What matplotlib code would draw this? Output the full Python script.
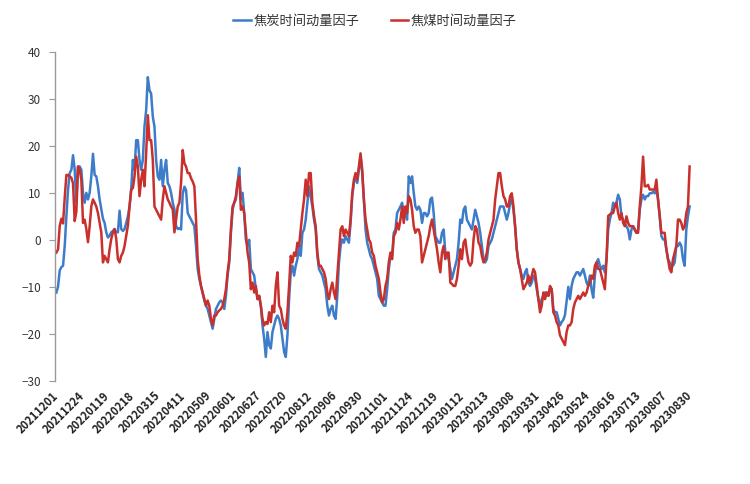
import numpy as np
import matplotlib
matplotlib.use("Agg")
import matplotlib.pyplot as plt
from matplotlib.transforms import ScaledTranslation

plt.rcParams['font.family'] = ['Noto Sans CJK SC', 'DejaVu Sans']

# tick labels on the category axis (every 17 trading days)
date_labels = ['20211201', '20211224', '20220119', '20220218', '20220315', '20220411',
               '20220509', '20220601', '20220627', '20220720', '20220812', '20220906',
               '20220930', '20221101', '20221124', '20221219', '20230112', '20230213',
               '20230308', '20230331', '20230426', '20230524', '20230616', '20230713',
               '20230807', '20230830']

coke = [
    # 2021-12 .. 2022-04
    -11.2, -9.9, -6.5, -5.8, -5.5, -1.3, 5.0, 10.7, 14.2, 14.9, 18.0, 15.0, 8.0, 15.6, 15.6,
    14.9, 10.0, 7.9, 10.0, 8.6, 10.0, 13.5, 18.3, 13.8, 13.5, 11.4, 8.6, 6.5, 4.5, 3.6,
    1.6, 0.5, 0.9, 1.6, 1.9, 2.3, 1.6, 1.6, 6.2, 2.3, 1.9, 2.3, 3.6, 5.0, 7.1,
    10.7, 17.0, 14.9, 21.2, 21.2, 17.0, 14.9, 17.0, 24.1, 27.6, 34.6, 31.8, 31.1, 26.2, 24.1,
    17.0, 13.5, 12.8, 17.0, 11.4, 14.9, 17.0, 12.1, 11.4, 10.0, 7.9, 6.5, 2.9, 2.3, 2.5,
    # 2022-04 .. 2022-08
    2.2, 9.8, 11.3, 10.6, 5.7, 5.0, 4.3, 3.6, 2.9, -1.3, -6.2, -8.3, -9.8, -11.2, -12.9,
    -14.0, -14.7, -16.1, -17.5, -18.9, -16.8, -14.7, -14.0, -13.3, -12.9, -13.3, -14.7, -11.9, -7.6, -4.8,
    1.5, 6.4, 7.9, 8.6, 12.1, 15.3, 8.6, 10.0, 5.7, 0.0, -1.3, 0.0, -6.2, -6.9, -7.6,
    -10.5, -12.6, -11.9, -14.0, -18.2, -21.0, -24.9, -19.6, -22.4, -23.1, -19.6, -18.2, -16.8, -16.1, -16.8,
    -18.2, -21.0, -23.8, -24.9, -20.3, -12.6, -7.0, -5.5, -7.6, -5.5, -4.1, -1.3, -3.4, 1.5, 2.2,
    4.3, 7.9, 11.4,
    # 2022-08 .. 2022-12
    9.3, 7.1, 4.3, 2.2, -3.4, -6.2, -6.9, -7.6, -9.1, -10.5, -14.0, -16.1, -14.7, -14.0, -16.1,
    -16.8, -11.9, -4.8, -1.3, 0.1, -0.6, 0.8, 0.1, -0.6, 3.6, 9.3, 12.1, 13.5, 12.1, 14.9,
    17.7, 14.2, 8.6, 2.2, -0.6, -2.0, -3.4, -4.1, -5.5, -6.9, -8.3, -11.9, -12.6, -13.3, -14.0,
    -14.0, -10.5, -6.2, -3.4, -3.4, 1.5, 2.2, 5.7, 6.4, 7.1, 7.9, 5.7, 5.7, 4.3, 13.5,
    12.1, 13.5, 10.0, 7.1, 6.4, 7.1, 6.4, 3.6, 5.7, 5.7, 5.0, 5.7, 8.6, 9.0, 5.7,
    0.8, 0.1, -0.6,
    # 2022-12 .. 2023-04
    -0.6, 1.5, 2.2, -2.7, -3.4, -4.1, -6.2, -8.3, -6.9, -5.5, -4.1, -0.6, 4.3, 3.6, 6.4,
    7.1, 4.3, 3.6, 2.9, 2.2, 4.3, 6.4, 5.0, 3.6, 1.5, -1.3, -4.1, -4.8, -4.1, -1.3,
    -0.6, 0.1, 1.5, 2.9, 4.3, 5.7, 7.1, 7.1, 7.1, 5.7, 4.3, 5.7, 7.9, 8.6, 6.4,
    2.9, -2.0, -4.8, -6.2, -7.6, -8.3, -6.9, -6.2, -9.1, -9.8, -9.1, -7.6, -8.3, -10.5, -12.6,
    -14.0, -12.6, -11.9, -11.2, -11.2, -11.9, -10.5, -10.5, -14.7, -15.4, -15.4, -16.8, -18.2, -17.5, -17.0,
    -16.0, -13.0, -10.0,
    # 2023-04 .. 2023-08
    -12.6, -9.8, -8.3, -7.6, -6.9, -6.9, -7.6, -6.9, -6.2, -7.6, -9.1, -9.8, -7.6, -10.5, -12.3,
    -7.6, -4.8, -4.1, -5.5, -6.2, -5.5, -6.9, -4.1, 2.2, 4.3, 5.7, 7.9, 7.1, 8.0, 9.6,
    8.6, 5.0, 4.3, 3.6, 2.9, 2.2, 0.1, 2.2, 2.9, 2.2, 1.5, 2.2, 6.4, 8.6, 9.6,
    8.6, 9.3, 9.3, 9.9, 9.9, 10.2, 9.9, 10.7, 8.6, 5.1, 0.8, 0.1, 0.1, -2.0, -4.1,
    -4.8, -5.5, -5.5, -4.8, -1.3, -1.3, -0.6, -1.3, -4.1, -5.5, 2.2, 5.0, 7.1,
]

coking_coal = [
    # 2021-12 .. 2022-04
    -2.7, -2.0, 3.0, 4.5, 3.5, 9.0, 13.8, 13.8, 13.5, 13.2, 12.0, 4.0, 6.0, 15.6, 14.9,
    12.8, 3.6, 4.3, 2.3, -0.5, 2.9, 7.1, 8.6, 7.9, 7.1, 5.7, 3.6, 1.6, -4.8, -3.4,
    -4.1, -4.8, -2.0, 0.2, 1.6, 2.3, 0.2, -4.1, -4.8, -3.4, -2.7, -1.3, 0.9, 3.0, 7.1,
    10.7, 11.0, 13.5, 17.7, 15.6, 9.3, 12.8, 14.9, 11.4, 18.4, 26.5, 21.2, 21.2, 17.0, 7.1,
    6.4, 5.7, 5.0, 4.3, 8.6, 11.4, 10.0, 8.6, 7.9, 7.1, 6.5, 1.6, 4.3, 7.1, 7.9,
    # 2022-04 .. 2022-08
    12.1, 19.1, 16.3, 15.6, 14.2, 14.2, 13.1, 12.4, 11.4, 4.3, -4.1, -7.6, -9.8, -11.2, -12.6,
    -14.0, -12.9, -14.0, -16.8, -18.2, -16.1, -16.1, -15.4, -15.0, -14.7, -14.0, -12.6, -10.5, -6.9, -4.1,
    2.2, 7.1, 7.9, 9.3, 12.1, 13.5, 6.4, 7.1, 5.7, 1.5, -2.7, -4.8, -10.5, -9.1, -11.2,
    -9.8, -12.6, -11.9, -14.0, -16.8, -18.2, -17.5, -17.9, -15.4, -17.5, -14.0, -15.4, -9.8, -6.9, -14.0,
    -14.7, -16.8, -18.2, -18.9, -15.4, -9.8, -3.4, -4.8, -2.7, -3.4, -0.6, -1.3, 2.2, 5.7, 8.6,
    12.8, 9.3, 14.2,
    # 2022-08 .. 2022-12
    14.2, 7.9, 5.1, 2.9, -2.7, -5.5, -5.5, -6.2, -6.9, -8.3, -11.2, -12.6, -10.5, -9.1, -11.2,
    -12.6, -7.6, -2.7, 2.2, 2.9, 0.8, 2.2, 1.5, 0.8, 4.3, 9.9, 12.8, 14.2, 12.8, 15.6,
    18.4, 14.9, 8.6, 4.3, 2.2, 0.1, -0.6, -2.7, -3.4, -5.5, -6.9, -8.3, -11.2, -13.3, -12.6,
    -9.8, -8.3, -4.8, -2.7, -4.1, 0.8, 1.5, 3.6, 2.2, 4.3, 7.1, 3.6, 7.1, 5.7, 9.3,
    8.6, 6.4, 2.9, 1.5, 2.2, 2.2, 0.8, -4.8, -3.4, -2.0, -0.6, 0.8, 2.9, 4.3, 2.2,
    0.1, -2.0, -4.8,
    # 2022-12 .. 2023-04
    -6.9, -2.7, -1.3, -4.1, -2.7, -2.7, -9.1, -9.4, -9.8, -9.8, -8.3, -5.5, -2.0, -4.1, -0.6,
    0.1, -2.7, -4.8, -5.5, -4.8, 0.1, 2.9, 2.2, -0.6, -1.3, -3.4, -4.8, -4.1, -2.7, 0.1,
    1.5, 2.9, 4.3, 8.6, 11.4, 14.2, 14.2, 11.4, 9.3, 8.6, 7.1, 7.1, 9.3, 9.9, 7.1,
    2.9, -2.0, -4.8, -6.2, -8.3, -10.5, -9.8, -9.1, -7.6, -9.1, -7.6, -6.2, -6.9, -9.8, -12.6,
    -15.4, -14.0, -11.2, -12.6, -11.2, -11.9, -9.8, -10.5, -15.4, -16.1, -17.5, -18.2, -20.3, -21.0, -21.7,
    -22.4, -19.6, -18.2,
    # 2023-04 .. 2023-08
    -18.2, -17.5, -14.7, -13.3, -12.6, -11.9, -12.6, -11.9, -11.2, -11.9, -11.2, -9.8, -9.1, -7.6, -8.3,
    -5.5, -4.8, -6.2, -6.2, -7.6, -9.1, -10.5, -4.1, 5.1, 5.4, 5.7, 5.7, 7.1, 7.9, 5.7,
    4.3, 5.7, 3.6, 2.9, 5.0, 3.6, 2.9, 2.9, 2.9, 2.2, 1.5, 1.5, 7.1, 11.4, 17.7,
    11.4, 11.4, 11.7, 10.7, 10.7, 10.7, 10.7, 12.8, 8.6, 5.1, 1.5, 1.5, 1.5, -2.0, -4.1,
    -6.2, -6.9, -4.1, -2.7, -1.3, 4.3, 4.3, 3.6, 2.2, 2.9, 5.7, 7.1, 15.6,
]

n = len(coke)
x = np.arange(n)
tick_pos = np.linspace(0, n - 1, len(date_labels))

fig = plt.figure(figsize=(7.5, 4.84), dpi=100)
ax = fig.add_axes([0.073, 0.213, 0.862, 0.68])

ax.plot(x, coke, color='#3D7CC9', lw=1.8, label='焦炭时间动量因子', solid_joinstyle='round')
ax.plot(x, coking_coal, color='#C9302C', lw=1.8, label='焦煤时间动量因子', solid_joinstyle='round')

ax.set_ylim(-30, 40)
ax.set_yticks(range(-30, 41, 10))
ax.set_xlim(-1, n + 6)
ax.set_xticks(tick_pos)
ax.set_xticklabels(date_labels, rotation=45, ha='right', rotation_mode='anchor',
                   fontsize=8, fontweight='bold', color='#222222')
ax.tick_params(axis='x', length=0, pad=4)
ax.tick_params(axis='y', direction='out', length=4, color='#999999',
               labelsize=8.5, labelcolor='#333333', pad=6)

# nudge the rotated date labels a little left/down like the original
shift = ScaledTranslation(-3 / 72, -2 / 72, fig.dpi_scale_trans)
for lbl in ax.get_xticklabels():
    lbl.set_transform(lbl.get_transform() + shift)

for side in ['top', 'right', 'bottom']:
    ax.spines[side].set_visible(False)
ax.spines['left'].set_color('#999999')
ax.spines['left'].set_linewidth(1.0)

fig.legend(loc='upper center', bbox_to_anchor=(0.5, 0.995), ncol=2, frameon=False,
           fontsize=9.5, handlelength=1.3, columnspacing=2.4, handletextpad=0.2,
           labelcolor='#333333')

fig.savefig('out.png', dpi=100)
plt.close(fig)
